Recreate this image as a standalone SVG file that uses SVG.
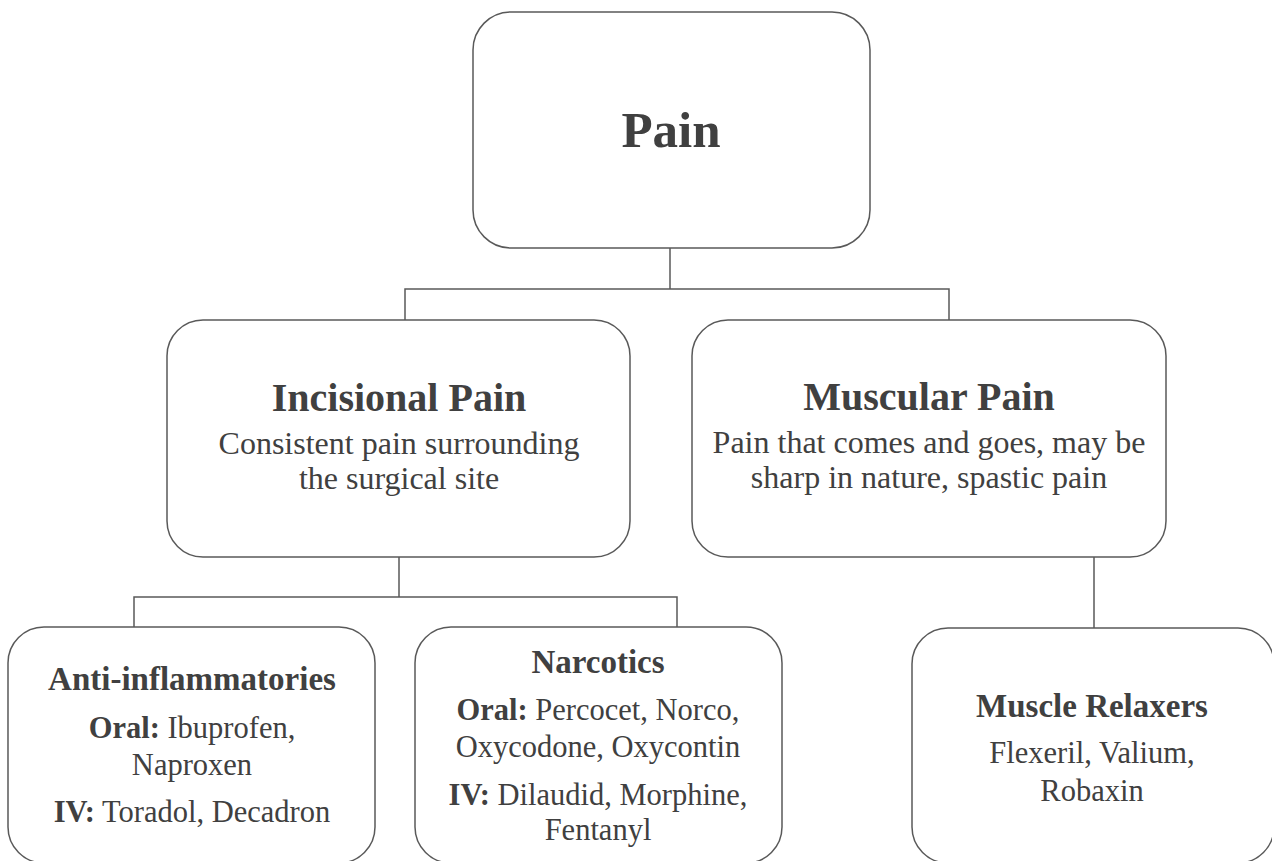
<svg xmlns="http://www.w3.org/2000/svg" width="1272" height="861" viewBox="0 0 1272 861">
<style>
.box{fill:#ffffff;stroke:#595959;stroke-width:1.5}
.con{fill:none;stroke:#595959;stroke-width:1.5}
text{font-family:"Liberation Serif","Times New Roman",serif;fill:#404040;text-anchor:middle}
.t0{font-size:51px;font-weight:bold}
.t1{font-size:40px;font-weight:bold}
.b1{font-size:32px}
.t2{font-size:33px;font-weight:bold}
.b2{font-size:30.5px}
.k{font-weight:bold}
</style>
<rect width="1272" height="861" fill="#ffffff"/>
<g id="connectors">
<path class="con" d="M670 248 V289 M405 320 V289 H949 V320"/>
<path class="con" d="M399 557 V597 M134 627 V597 H677 V627"/>
<path class="con" d="M1094 557 V628"/>
</g>
<g id="pain">
<rect class="box" x="473" y="12" width="397" height="236" rx="38"/>
<text class="t0" x="671" y="147">Pain</text>
</g>
<g id="incisional">
<rect class="box" x="167" y="320" width="463" height="237" rx="36"/>
<text class="t1" x="399" y="411">Incisional Pain</text>
<text class="b1" x="399" y="454">Consistent pain surrounding</text>
<text class="b1" x="399" y="489">the surgical site</text>
</g>
<g id="muscular">
<rect class="box" x="692" y="320" width="474" height="237" rx="36"/>
<text class="t1" x="929" y="410">Muscular Pain</text>
<text class="b1" x="929" y="453">Pain that comes and goes, may be</text>
<text class="b1" x="929" y="488">sharp in nature, spastic pain</text>
</g>
<g id="anti">
<rect class="box" x="8" y="627" width="367" height="236" rx="36"/>
<text class="t2" x="192" y="690">Anti-inflammatories</text>
<text class="b2" x="192" y="738"><tspan class="k">Oral:</tspan> Ibuprofen,</text>
<text class="b2" x="192" y="775">Naproxen</text>
<text class="b2" x="192" y="822"><tspan class="k">IV:</tspan> Toradol, Decadron</text>
</g>
<g id="narcotics">
<rect class="box" x="415" y="627" width="367" height="236" rx="36"/>
<text class="t2" x="598" y="673">Narcotics</text>
<text class="b2" x="598" y="720"><tspan class="k">Oral:</tspan> Percocet, Norco,</text>
<text class="b2" x="598" y="757">Oxycodone, Oxycontin</text>
<text class="b2" x="598" y="805"><tspan class="k">IV:</tspan> Dilaudid, Morphine,</text>
<text class="b2" x="598" y="840">Fentanyl</text>
</g>
<g id="relaxers">
<rect class="box" x="912" y="628" width="362" height="235" rx="36"/>
<text class="t2" x="1092" y="717">Muscle Relaxers</text>
<text class="b2" x="1092" y="763">Flexeril, Valium,</text>
<text class="b2" x="1092" y="801">Robaxin</text>
</g>
</svg>
